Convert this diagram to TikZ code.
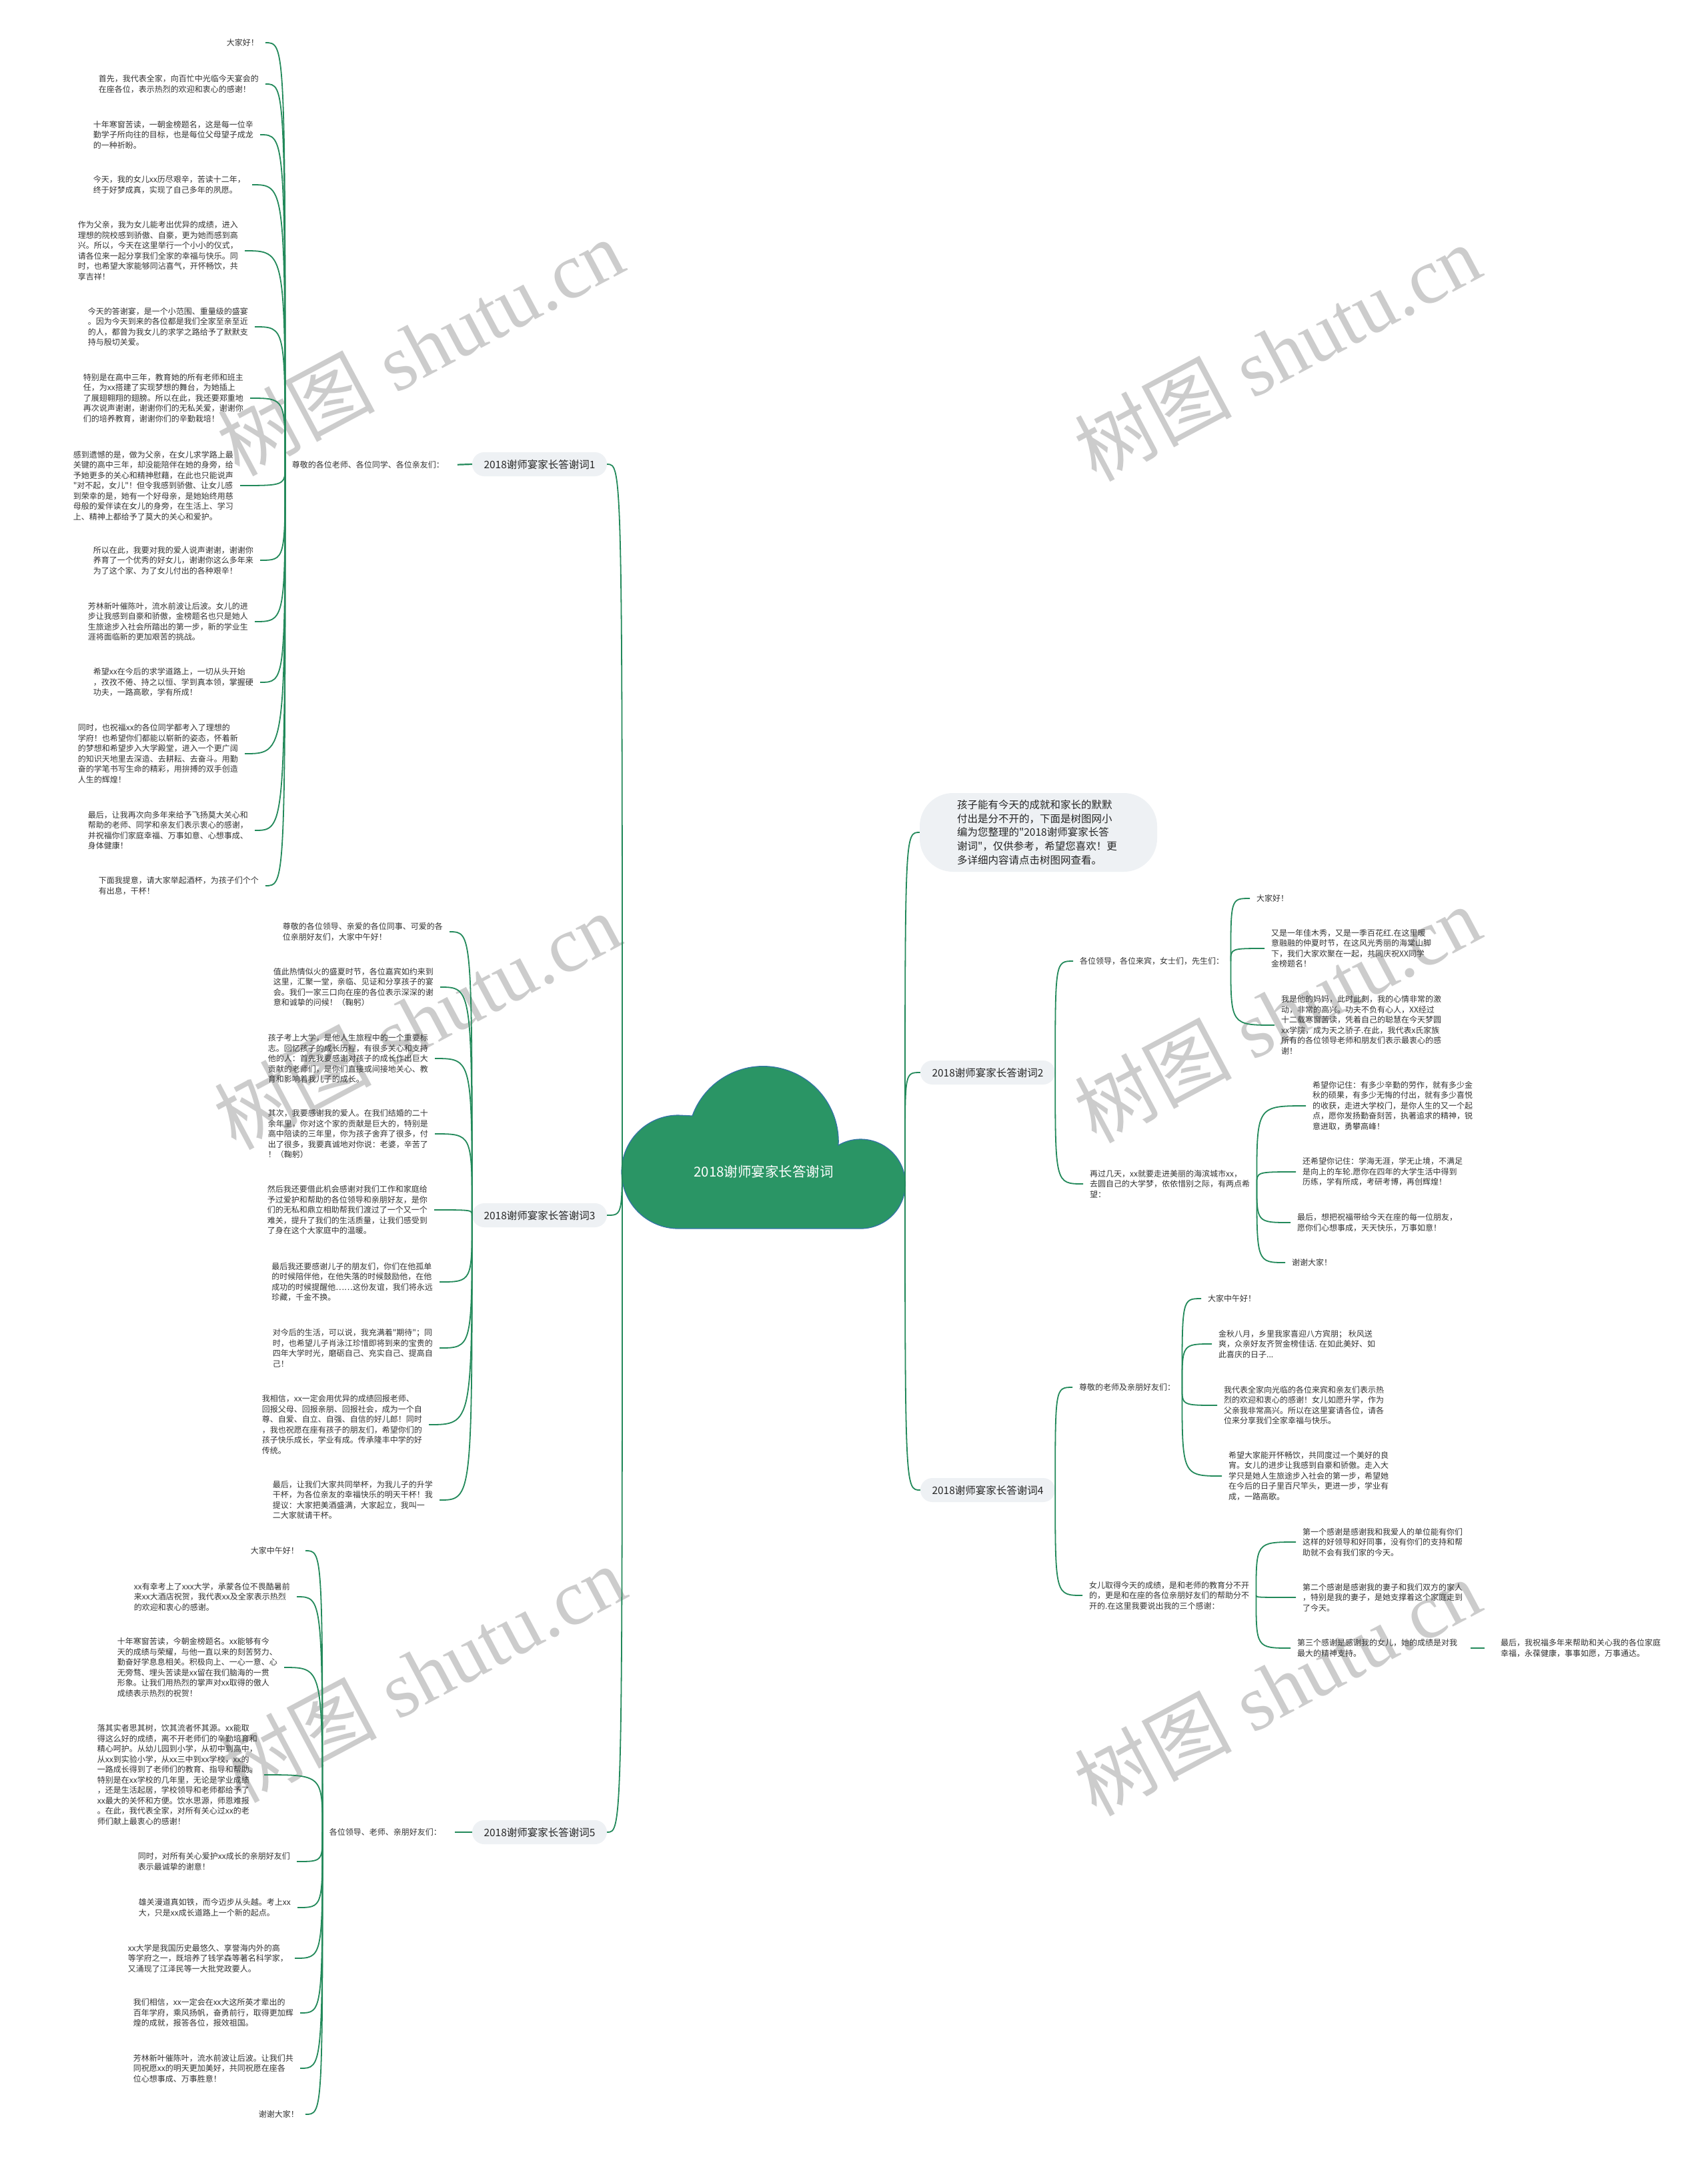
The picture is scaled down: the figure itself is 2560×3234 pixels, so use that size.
\documentclass[tikz,border=0pt]{standalone}
\usepackage{fontspec}
\newfontfamily\cjk{Noto Sans CJK SC}
\newfontfamily\wmserif{Liberation Serif}
\definecolor{linegreen}{HTML}{22895A}
\definecolor{cloudgreen}{HTML}{2A9565}
\definecolor{cloudedge}{HTML}{3372A8}
\definecolor{boxgray}{HTML}{EEF1F4}
\definecolor{textgray}{HTML}{333333}

\begin{document}
\begin{tikzpicture}[x=1pt, y=-1pt]
    \tikzstyle{leftleaf} = [anchor=east, align=left, inner xsep=10pt, inner ysep=2pt, text=textgray, font=\cjk\fontsize{12}{15.5}\selectfont]
    \tikzstyle{rightleaf} = [anchor=west, align=left, inner xsep=10pt, inner ysep=2pt, text=textgray, font=\cjk\fontsize{12}{15.5}\selectfont]
    \tikzstyle{topic} = [align=left, inner xsep=10pt, inner ysep=2pt, text=textgray, font=\cjk\fontsize{12}{15.5}\selectfont]
    \tikzstyle{branchbox} = [rectangle, rounded corners=18pt, minimum width=202pt, minimum height=36pt, inner sep=0pt, fill=boxgray, text=black!85, font=\cjk\fontsize{15.5}{18}\selectfont]
    \tikzstyle{introbox} = [rectangle, rounded corners=50pt, minimum width=356pt, minimum height=118pt, text width=244pt, align=left, fill=boxgray, text=black!85, font=\cjk\fontsize{15.5}{20.6}\selectfont]
    \tikzstyle{connector} = [draw=linegreen, line width=1.8pt]
    \tikzstyle{stub} = [draw=linegreen, line width=2.2pt, shorten <=10pt]
    \tikzstyle{watermark} = [rotate=28, text=gray!40, font=\wmserif\fontsize{118}{130}\selectfont]

    % Canvas
    \useasboundingbox (0,0) rectangle (2560,3234);
    \fill [white] (0,0) rectangle (2560,3234);

    % Watermarks
    \node [watermark] (wm1) at (630,520) {{\cjk 树图} shutu.cn};
    \node [watermark] (wm2) at (1915,528) {{\cjk 树图} shutu.cn};
    \node [watermark] (wm3) at (625,1530) {{\cjk 树图} shutu.cn};
    \node [watermark] (wm4) at (1915,1520) {{\cjk 树图} shutu.cn};
    \node [watermark] (wm5) at (633,2509) {{\cjk 树图} shutu.cn};
    \node [watermark] (wm6) at (1915,2529) {{\cjk 树图} shutu.cn};

    % Central topic
    \fill [cloudgreen, draw=cloudedge, line width=1.2pt] (1017,1842) arc [start angle=90, end angle=270, radius=85] -- (1038,1673) arc [start angle=200, end angle=360, radius=113] -- (1257,1717) arc [start angle=240, end angle=450, radius=67] -- cycle;
    \node [font=\cjk\fontsize{20.5}{24}\selectfont, text=white] (center_topic) at (1145,1757) {2018谢师宴家长答谢词};
    \coordinate (cloud_west) at (933,1722);
    \coordinate (cloud_east) at (1357,1722);

    % Speeches
    \node [branchbox] (speech_one) at (809,696) {2018谢师宴家长答谢词1};
    \node [branchbox] (speech_three) at (809,1822) {2018谢师宴家长答谢词3};
    \node [branchbox] (speech_five) at (809,2747) {2018谢师宴家长答谢词5};
    \node [branchbox] (speech_two) at (1481,1608) {2018谢师宴家长答谢词2};
    \node [branchbox] (speech_four) at (1481,2234) {2018谢师宴家长答谢词4};
    \node [introbox] (intro_note) at (1557,1248) {孩子能有今天的成就和家长的默默\\付出是分不开的，下面是树图网小\\编为您整理的"2018谢师宴家长答\\谢词"，仅供参考，希望您喜欢！更\\多详细内容请点击树图网查看。};

    % Speech 1
    \node [topic, anchor=east] (greet_one) at (676,697) {尊敬的各位老师、各位同学、各位亲友们：};
    \node [leftleaf] (one_a) at (398,64) {大家好！};
    \node [leftleaf] (one_b) at (398,126) {首先，我代表全家，向百忙中光临今天宴会的\\在座各位，表示热烈的欢迎和衷心的感谢！};
    \node [leftleaf] (one_c) at (390,202) {十年寒窗苦读，一朝金榜题名，这是每一位辛\\勤学子所向往的目标，也是每位父母望子成龙\\的一种祈盼。};
    \node [leftleaf] (one_d) at (378,277) {今天，我的女儿xx历尽艰辛，苦读十二年，\\终于好梦成真，实现了自己多年的夙愿。};
    \node [leftleaf] (one_e) at (367,376) {作为父亲，我为女儿能考出优异的成绩，进入\\理想的院校感到骄傲、自豪，更为她而感到高\\兴。所以，今天在这里举行一个小小的仪式，\\请各位来一起分享我们全家的幸福与快乐。同\\时，也希望大家能够同沾喜气，开怀畅饮，共\\享吉祥！};
    \node [leftleaf] (one_f) at (382,490) {今天的答谢宴，是一个小范围、重量级的盛宴\\。因为今天到来的各位都是我们全家至亲至近\\的人，都曾为我女儿的求学之路给予了默默支\\持与殷切关爱。};
    \node [leftleaf] (one_g) at (375,597) {特别是在高中三年，教育她的所有老师和班主\\任，为xx搭建了实现梦想的舞台，为她插上\\了展翅翱翔的翅膀。所以在此，我还要郑重地\\再次说声谢谢，谢谢你们的无私关爱，谢谢你\\们的培养教育，谢谢你们的辛勤栽培！};
    \node [leftleaf] (one_h) at (360,728) {感到遗憾的是，做为父亲，在女儿求学路上最\\关键的高中三年，却没能陪伴在她的身旁，给\\予她更多的关心和精神慰藉，在此也只能说声\\"对不起，女儿"！但令我感到骄傲、让女儿感\\到荣幸的是，她有一个好母亲，是她始终用慈\\母般的爱伴读在女儿的身旁，在生活上、学习\\上、精神上都给予了莫大的关心和爱护。};
    \node [leftleaf] (one_i) at (390,840) {所以在此，我要对我的爱人说声谢谢，谢谢你\\养育了一个优秀的好女儿，谢谢你这么多年来\\为了这个家、为了女儿付出的各种艰辛！};
    \node [leftleaf] (one_j) at (382,932) {芳林新叶催陈叶，流水前波让后波。女儿的进\\步让我感到自豪和骄傲，金榜题名也只是她人\\生旅途步入社会所踏出的第一步，新的学业生\\涯将面临新的更加艰苦的挑战。};
    \node [leftleaf] (one_k) at (390,1023) {希望xx在今后的求学道路上，一切从头开始\\，孜孜不倦、持之以恒、学到真本领，掌握硬\\功夫，一路高歌，学有所成！};
    \node [leftleaf] (one_l) at (367,1130) {同时，也祝福xx的各位同学都考入了理想的\\学府！也希望你们都能以崭新的姿态，怀着新\\的梦想和希望步入大学殿堂，进入一个更广阔\\的知识天地里去深造、去耕耘、去奋斗。用勤\\奋的学笔书写生命的精彩，用拚搏的双手创造\\人生的辉煌！};
    \node [leftleaf] (one_m) at (382,1245) {最后，让我再次向多年来给予飞扬莫大关心和\\帮助的老师、同学和亲友们表示衷心的感谢，\\并祝福你们家庭幸福、万事如意、心想事成、\\身体健康！};
    \node [leftleaf] (one_n) at (398,1328) {下面我提意，请大家举起酒杯，为孩子们个个\\有出息，干杯！};

    % Speech 3
    \node [leftleaf] (three_a) at (674,1397) {尊敬的各位领导、亲爱的各位同事、可爱的各\\位亲朋好友们，大家中午好！};
    \node [leftleaf] (three_b) at (660,1480) {值此热情似火的盛夏时节，各位嘉宾如约来到\\这里，汇聚一堂，亲临、见证和分享孩子的宴\\会。我们一家三口向在座的各位表示深深的谢\\意和诚挚的问候！（鞠躬）};
    \node [leftleaf] (three_c) at (652,1587) {孩子考上大学，是他人生旅程中的一个重要标\\志。回忆孩子的成长历程，有很多关心和支持\\他的人：首先我要感谢对孩子的成长作出巨大\\贡献的老师们，是你们直接或间接地关心、教\\育和影响着我儿子的成长。};
    \node [leftleaf] (three_d) at (652,1700) {其次，我要感谢我的爱人。在我们结婚的二十\\余年里，你对这个家的贡献是巨大的，特别是\\高中陪读的三年里，你为孩子舍弃了很多，付\\出了很多，我要真诚地对你说：老婆，辛苦了\\！（鞠躬）};
    \node [leftleaf] (three_e) at (651,1814) {然后我还要借此机会感谢对我们工作和家庭给\\予过爱护和帮助的各位领导和亲朋好友，是你\\们的无私和鼎立相助帮我们渡过了一个又一个\\难关，提升了我们的生活质量，让我们感受到\\了身在这个大家庭中的温暖。};
    \node [leftleaf] (three_f) at (659,1922) {最后我还要感谢儿子的朋友们，你们在他孤单\\的时候陪伴他，在他失落的时候鼓励他，在他\\成功的时候提醒他……这份友谊，我们将永远\\珍藏，千金不换。};
    \node [leftleaf] (three_g) at (659,2021) {对今后的生活，可以说，我充满着"期待"；同\\时，也希望儿子肖泳江珍惜即将到来的宝贵的\\四年大学时光，磨砺自己、充实自己、提高自\\己！};
    \node [leftleaf] (three_h) at (643,2136) {我相信，xx一定会用优异的成绩回报老师、\\回报父母、回报亲朋、回报社会，成为一个自\\尊、自爱、自立、自强、自信的好儿郎！同时\\，我也祝愿在座有孩子的朋友们，希望你们的\\孩子快乐成长，学业有成。传承隆丰中学的好\\传统。};
    \node [leftleaf] (three_i) at (659,2249) {最后，让我们大家共同举杯，为我儿子的升学\\干杯，为各位亲友的幸福快乐的明天干杯！我\\提议：大家把美酒盛满，大家起立，我叫一\\二大家就请干杯。};

    % Speech 5
    \node [topic, anchor=east] (greet_five) at (672,2747) {各位领导、老师、亲朋好友们：};
    \node [leftleaf] (five_a) at (458,2325) {大家中午好！};
    \node [leftleaf] (five_b) at (445,2394) {xx有幸考上了xxx大学，承蒙各位不畏酷暑前\\来xx大酒店祝贺，我代表xx及全家表示热烈\\的欢迎和衷心的感谢。};
    \node [leftleaf] (five_c) at (426,2500) {十年寒窗苦读，今朝金榜题名。xx能够有今\\天的成绩与荣耀，与他一直以来的刻苦努力、\\勤奋好学息息相关。积极向上、一心一意、心\\无旁骛、埋头苦读是xx留在我们脑海的一贯\\形象。让我们用热烈的掌声对xx取得的傲人\\成绩表示热烈的祝贺！};
    \node [leftleaf] (five_d) at (396,2661) {落其实者思其树，饮其流者怀其源。xx能取\\得这么好的成绩，离不开老师们的辛勤培育和\\精心呵护。从幼儿园到小学，从初中到高中，\\从xx到实验小学，从xx三中到xx学校，xx的\\一路成长得到了老师们的教育、指导和帮助。\\特别是在xx学校的几年里，无论是学业成绩\\，还是生活起居，学校领导和老师都给予了\\xx最大的关怀和方便。饮水思源，师恩难报\\。在此，我代表全家，对所有关心过xx的老\\师们献上最衷心的感谢！};
    \node [leftleaf] (five_e) at (445,2791) {同时，对所有关心爱护xx成长的亲朋好友们\\表示最诚挚的谢意！};
    \node [leftleaf] (five_f) at (446,2860) {雄关漫道真如铁，而今迈步从头越。考上xx\\大，只是xx成长道路上一个新的起点。};
    \node [leftleaf] (five_g) at (442,2936) {xx大学是我国历史最悠久、享誉海内外的高\\等学府之一，既培养了钱学森等著名科学家，\\又涌现了江泽民等一大批党政要人。};
    \node [leftleaf] (five_h) at (450,3018) {我们相信，xx一定会在xx大这所英才辈出的\\百年学府，乘风扬帆，奋勇前行，取得更加辉\\煌的成就，报答各位，报效祖国。};
    \node [leftleaf] (five_i) at (450,3101) {芳林新叶催陈叶，流水前波让后波。让我们共\\同祝愿xx的明天更加美好，共同祝愿在座各\\位心想事成、万事胜意！};
    \node [leftleaf] (five_j) at (458,3170) {谢谢大家！};

    % Speech 2
    \node [topic, anchor=west] (greet_two) at (1609,1441) {各位领导，各位来宾，女士们，先生们：};
    \node [rightleaf] (two_a) at (1874,1347) {大家好！};
    \node [rightleaf] (two_b) at (1896,1422) {又是一年佳木秀，又是一季百花红.在这里暖\\意融融的仲夏时节，在这风光秀丽的海棠山脚\\下，我们大家欢聚在一起，共同庆祝XX同学\\金榜题名！};
    \node [rightleaf] (two_c) at (1911,1537) {我是他的妈妈，此时此刻，我的心情非常的激\\动，非常的高兴。功夫不负有心人，XX经过\\十二载寒窗苦读，凭着自己的聪慧在今天梦圆\\xx学院，成为天之骄子.在此，我代表x氏家族\\所有的各位领导老师和朋友们表示最衷心的感\\谢！};
    \node [topic, anchor=west] (hope_two) at (1624,1775) {再过几天，xx就要走进美丽的海滨城市xx，\\去圆自己的大学梦，依依惜别之际，有两点希\\望：};
    \node [rightleaf] (two_d) at (1958,1658) {希望你记住：有多少辛勤的劳作，就有多少金\\秋的硕果，有多少无悔的付出，就有多少喜悦\\的收获，走进大学校门，是你人生的又一个起\\点，愿你发扬勤奋刻苦，执著追求的精神，锐\\意进取，勇攀高峰！};
    \node [rightleaf] (two_e) at (1943,1757) {还希望你记住：学海无涯，学无止境，不满足\\是向上的车轮.愿你在四年的大学生活中得到\\历练，学有所成，考研考博，再创辉煌！};
    \node [rightleaf] (two_f) at (1935,1833) {最后，想把祝福带给今天在座的每一位朋友，\\愿你们心想事成，天天快乐，万事如意！};
    \node [rightleaf] (two_g) at (1927,1893) {谢谢大家！};

    % Speech 4
    \node [topic, anchor=west] (greet_four) at (1608,2080) {尊敬的老师及亲朋好友们：};
    \node [rightleaf] (four_a) at (1801,1947) {大家中午好！};
    \node [rightleaf] (four_b) at (1817,2015) {金秋八月，乡里我家喜迎八方宾朋； 秋风送\\爽，众亲好友齐贺金榜佳话. 在如此美好、如\\此喜庆的日子...};
    \node [rightleaf] (four_c) at (1825,2107) {我代表全家向光临的各位来宾和亲友们表示热\\烈的欢迎和衷心的感谢！女儿如愿升学，作为\\父亲我非常高兴。所以在这里宴请各位，请各\\位来分享我们全家幸福与快乐。};
    \node [rightleaf] (four_d) at (1832,2213) {希望大家能开怀畅饮，共同度过一个美好的良\\宵。女儿的进步让我感到自豪和骄傲。走入大\\学只是她人生旅途步入社会的第一步，希望她\\在今后的日子里百尺竿头，更进一步，学业有\\成，一路高歌。};
    \node [topic, anchor=west] (thanks_four) at (1623,2392) {女儿取得今天的成绩，是和老师的教育分不开\\的，更是和在座的各位亲朋好友们的帮助分不\\开的.在这里我要说出我的三个感谢：};
    \node [rightleaf] (four_e) at (1943,2312) {第一个感谢是感谢我和我爱人的单位能有你们\\这样的好领导和好同事，没有你们的支持和帮\\助就不会有我们家的今天。};
    \node [rightleaf] (four_f) at (1943,2395) {第二个感谢是感谢我的妻子和我们双方的家人\\，特别是我的妻子，是她支撑着这个家庭走到\\了今天。};
    \node [rightleaf] (four_g) at (1935,2471) {第三个感谢是感谢我的女儿，她的成绩是对我\\最大的精神支持。};
    \node [rightleaf] (four_h) at (2240,2471) {最后，我祝福多年来帮助和关心我的各位家庭\\幸福，永葆健康，事事如愿，万事通达。};

    % Trunk connections
    \draw [connector] (cloud_west) .. controls (cloud_west |- speech_one.east) .. (speech_one.east);
    \draw [connector] (cloud_west) .. controls (cloud_west |- speech_three.east) .. (speech_three.east);
    \draw [connector] (cloud_west) .. controls (cloud_west |- speech_five.east) .. (speech_five.east);
    \draw [connector] (cloud_east) .. controls (cloud_east |- intro_note.west) .. (intro_note.west);
    \draw [connector] (cloud_east) .. controls (cloud_east |- speech_two.west) .. (speech_two.west);
    \draw [connector] (cloud_east) .. controls (cloud_east |- speech_four.west) .. (speech_four.west);

    % Speech 1 connections
    \draw [stub] (greet_one.east) -- (speech_one.west);
    \draw [connector] (greet_one.west) .. controls (greet_one.west |- one_a.east) .. (one_a.east);
    \draw [connector] (greet_one.west) .. controls (greet_one.west |- one_b.east) .. (one_b.east);
    \draw [connector] (greet_one.west) .. controls (greet_one.west |- one_c.east) .. (one_c.east);
    \draw [connector] (greet_one.west) .. controls (greet_one.west |- one_d.east) .. (one_d.east);
    \draw [connector] (greet_one.west) .. controls (greet_one.west |- one_e.east) .. (one_e.east);
    \draw [connector] (greet_one.west) .. controls (greet_one.west |- one_f.east) .. (one_f.east);
    \draw [connector] (greet_one.west) .. controls (greet_one.west |- one_g.east) .. (one_g.east);
    \draw [connector] (greet_one.west) .. controls (greet_one.west |- one_h.east) .. (one_h.east);
    \draw [connector] (greet_one.west) .. controls (greet_one.west |- one_i.east) .. (one_i.east);
    \draw [connector] (greet_one.west) .. controls (greet_one.west |- one_j.east) .. (one_j.east);
    \draw [connector] (greet_one.west) .. controls (greet_one.west |- one_k.east) .. (one_k.east);
    \draw [connector] (greet_one.west) .. controls (greet_one.west |- one_l.east) .. (one_l.east);
    \draw [connector] (greet_one.west) .. controls (greet_one.west |- one_m.east) .. (one_m.east);
    \draw [connector] (greet_one.west) .. controls (greet_one.west |- one_n.east) .. (one_n.east);

    % Speech 3 connections
    \draw [connector] (speech_three.west) .. controls (speech_three.west |- three_a.east) .. (three_a.east);
    \draw [connector] (speech_three.west) .. controls (speech_three.west |- three_b.east) .. (three_b.east);
    \draw [connector] (speech_three.west) .. controls (speech_three.west |- three_c.east) .. (three_c.east);
    \draw [connector] (speech_three.west) .. controls (speech_three.west |- three_d.east) .. (three_d.east);
    \draw [connector] (speech_three.west) .. controls (speech_three.west |- three_e.east) .. (three_e.east);
    \draw [connector] (speech_three.west) .. controls (speech_three.west |- three_f.east) .. (three_f.east);
    \draw [connector] (speech_three.west) .. controls (speech_three.west |- three_g.east) .. (three_g.east);
    \draw [connector] (speech_three.west) .. controls (speech_three.west |- three_h.east) .. (three_h.east);
    \draw [connector] (speech_three.west) .. controls (speech_three.west |- three_i.east) .. (three_i.east);

    % Speech 5 connections
    \draw [stub] (greet_five.east) -- (speech_five.west);
    \draw [connector] (greet_five.west) .. controls (greet_five.west |- five_a.east) .. (five_a.east);
    \draw [connector] (greet_five.west) .. controls (greet_five.west |- five_b.east) .. (five_b.east);
    \draw [connector] (greet_five.west) .. controls (greet_five.west |- five_c.east) .. (five_c.east);
    \draw [connector] (greet_five.west) .. controls (greet_five.west |- five_d.east) .. (five_d.east);
    \draw [connector] (greet_five.west) .. controls (greet_five.west |- five_e.east) .. (five_e.east);
    \draw [connector] (greet_five.west) .. controls (greet_five.west |- five_f.east) .. (five_f.east);
    \draw [connector] (greet_five.west) .. controls (greet_five.west |- five_g.east) .. (five_g.east);
    \draw [connector] (greet_five.west) .. controls (greet_five.west |- five_h.east) .. (five_h.east);
    \draw [connector] (greet_five.west) .. controls (greet_five.west |- five_i.east) .. (five_i.east);
    \draw [connector] (greet_five.west) .. controls (greet_five.west |- five_j.east) .. (five_j.east);

    % Speech 2 connections
    \draw [connector] (speech_two.east) .. controls (speech_two.east |- greet_two.west) .. (greet_two.west);
    \draw [connector] (speech_two.east) .. controls (speech_two.east |- hope_two.west) .. (hope_two.west);
    \draw [connector] (greet_two.east) .. controls (greet_two.east |- two_a.west) .. (two_a.west);
    \draw [connector] (greet_two.east) .. controls (greet_two.east |- two_b.west) .. (two_b.west);
    \draw [connector] (greet_two.east) .. controls (greet_two.east |- two_c.west) .. (two_c.west);
    \draw [connector] (hope_two.east) .. controls (hope_two.east |- two_d.west) .. (two_d.west);
    \draw [connector] (hope_two.east) .. controls (hope_two.east |- two_e.west) .. (two_e.west);
    \draw [connector] (hope_two.east) .. controls (hope_two.east |- two_f.west) .. (two_f.west);
    \draw [connector] (hope_two.east) .. controls (hope_two.east |- two_g.west) .. (two_g.west);

    % Speech 4 connections
    \draw [connector] (speech_four.east) .. controls (speech_four.east |- greet_four.west) .. (greet_four.west);
    \draw [connector] (speech_four.east) .. controls (speech_four.east |- thanks_four.west) .. (thanks_four.west);
    \draw [connector] (greet_four.east) .. controls (greet_four.east |- four_a.west) .. (four_a.west);
    \draw [connector] (greet_four.east) .. controls (greet_four.east |- four_b.west) .. (four_b.west);
    \draw [connector] (greet_four.east) .. controls (greet_four.east |- four_c.west) .. (four_c.west);
    \draw [connector] (greet_four.east) .. controls (greet_four.east |- four_d.west) .. (four_d.west);
    \draw [connector] (thanks_four.east) .. controls (thanks_four.east |- four_e.west) .. (four_e.west);
    \draw [connector] (thanks_four.east) .. controls (thanks_four.east |- four_f.west) .. (four_f.west);
    \draw [connector] (thanks_four.east) .. controls (thanks_four.east |- four_g.west) .. (four_g.west);
    \draw [stub, shorten >=14pt] (four_g.east) -- (four_h.west);
\end{tikzpicture}
\end{document}
